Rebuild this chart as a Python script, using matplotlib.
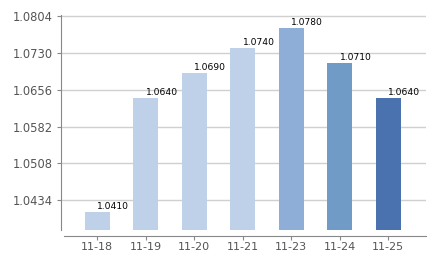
import matplotlib
matplotlib.use('Agg')
import matplotlib.pyplot as plt

# --- data ---
dates = ['11-18', '11-19', '11-20', '11-21', '11-23', '11-24', '11-25']
values = [1.0410, 1.0640, 1.0690, 1.0740, 1.0780, 1.0710, 1.0640]
bar_colors = ['#BFD0E9', '#BFD0E9', '#BFD0E9', '#BFD0E9', '#8EAED7', '#6F9BC6', '#4A72AE']
y_ticks = [1.0434, 1.0508, 1.0582, 1.0656, 1.0730, 1.0804]

fig = plt.figure(figsize=(4.38, 2.6), dpi=100)
ax = fig.add_axes([61 / 438, 1 - 230 / 260, (426 - 61) / 438, (230 - 15) / 260])

x = list(range(len(dates)))
ax.bar(x, values, width=0.52, color=bar_colors, zorder=2)

for xi, v in zip(x, values):
    ax.text(xi, v + 0.0002, f'{v:.4f}', ha='left', va='bottom',
            fontsize=6.6, color='#000000', zorder=3)

ax.set_ylim(1.0374, 1.0807)
ax.set_xlim(-0.75, 6.78)
ax.set_yticks(y_ticks)
ax.set_yticklabels([f'{t:.4f}' for t in y_ticks])
ax.set_xticks(x)
ax.set_xticklabels(dates)

ax.grid(axis='y', color='#D0D0D0', linewidth=1, zorder=0)
ax.set_axisbelow(True)

for side in ['top', 'right']:
    ax.spines[side].set_visible(False)
ax.spines['left'].set_color('#888888')
ax.spines['bottom'].set_color('#888888')
ax.spines['bottom'].set_position(('outward', 4))
# x axis line starts a few pixels right of the y axis, as in the original
ax.spines['bottom'].set_bounds(-0.69, 6.78)

ax.tick_params(axis='y', length=3, color='#888888', labelsize=8.3,
               labelcolor='#555555', pad=3)
ax.tick_params(axis='x', length=3, color='#888888', labelsize=8,
               labelcolor='#555555', pad=2)

fig.savefig('out.png', dpi=100)
